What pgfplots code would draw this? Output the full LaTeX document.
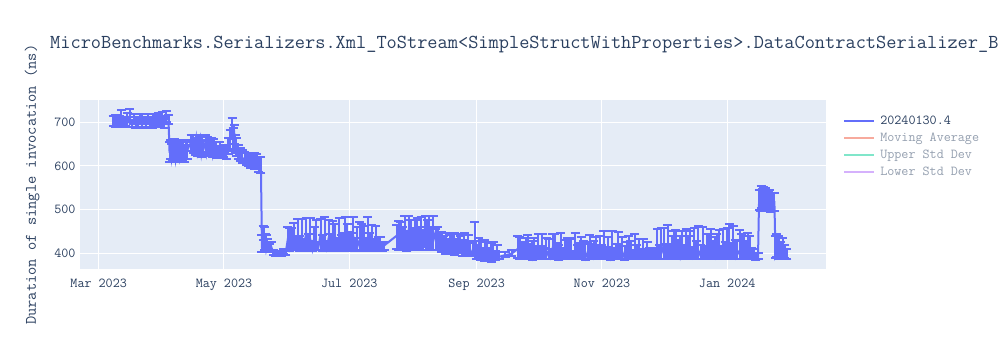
\documentclass[border=0pt]{standalone}
\usepackage{pgfplots}
\pgfplotsset{compat=1.18}
\usepackage{pgfplotstable}
\usepackage{fontspec}
\definecolor{pblue}{HTML}{636EFA}
\definecolor{plotbg}{HTML}{E5ECF6}
\definecolor{ptext}{HTML}{2A3F5F}
\definecolor{lgray}{HTML}{949FAF}
\definecolor{lred}{HTML}{F7AA9D}
\definecolor{lgreen}{HTML}{80E6CA}
\definecolor{lpurple}{HTML}{D5B1FC}

\pgfplotstableread{
x y ep em
7 702 12 10
8 698 18 8
9 705 10 12
10 700 15 9
11 708 20 14
12 696 12 7
13 703 10 11
14 699 22 9
15 712 18 12
16 697 9 8
17 705 14 10
18 701 11 13
19 694 16 7
20 707 12 12
21 700 19 10
22 703 10 8
23 698 15 11
24 706 13 9
25 701 9 12
26 695 17 8
27 709 11 13
28 702 14 10
29 699 22 9
30 704 10 11
31 707 16 8
32 700 12 12
33 711 15 10
34 706 10 9
34.5 630 25 20
35 645 15 30
35.5 620 30 10
36 640 18 28
36.5 628 22 15
37 650 12 35
37.5 618 35 8
38 635 20 22
38.5 625 28 14
39 648 10 32
39.5 622 30 11
40 638 22 25
41 630 25 18
42 620 28 10
42.5 645 15 30
43 635 20 20
45 655 15 20
46 648 22 18
47 640 25 15
47.5 660 12 25
48 635 20 12
48.5 652 18 22
49 642 25 18
49.5 658 10 26
50 630 28 10
50.5 646 20 20
51 638 22 15
52 655 15 24
52.5 632 25 10
53 648 18 20
54 640 20 18
55 650 15 22
55.5 628 25 8
56 642 20 16
57 632 22 12
58 628 15 10
59 636 18 14
60 626 20 8
61 633 14 12
62 624 22 9
63 645 20 18
64 660 22 25
65 682 28 20
65.5 668 20 30
66 675 18 25
66.5 650 22 20
67 640 25 18
68 628 20 12
69 622 18 10
70 615 22 8
71 618 15 10
72 610 20 8
73 607 18 8
74 605 25 10
75 612 15 12
76 600 30 8
77 603 25 10
78 595 25 8
79 590 30 6
79.5 412 30 8
80 440 22 10
80.5 415 45 8
81 425 20 15
81.5 408 35 6
82 418 15 10
83 410 12 6
84 415 10 8
85 401 6 4
86 398 5 3
87 400 6 4
88 397 5 3
89 399 7 4
90 402 8 4
91 400 6 4
92 430 30 22
93 412 45 6
94 438 20 30
95 418 52 10
96 425 15 18
97 440 38 32
98 414 25 8
99 428 50 20
100 420 12 14
101 445 35 38
102 416 28 10
103 432 48 26
104 410 18 5
105 438 22 30
106 422 55 15
107 415 10 8
108 442 36 34
109 418 24 12
110 430 52 22
111 412 16 6
112 436 40 28
113 424 20 18
114 416 58 10
115 440 26 32
116 420 14 14
117 434 46 28
118 413 30 7
119 428 18 22
120 444 38 36
121 418 50 12
122 426 22 20
123 412 34 6
124 438 44 30
125 420 16 14
126 430 30 24
127 416 56 10
128 442 24 34
129 422 40 16
130 414 20 8
131 436 48 28
132 420 26 14
133 428 36 22
134 414 18 8
135 432 30 24
136 418 20 12
137 424 14 16
138 414 10 8
139 418 8 10
145 440 25 30
146 430 45 22
147 452 20 42
148 425 35 18
149 446 40 36
150 432 18 26
151 455 30 44
152 428 48 20
153 444 14 36
154 436 40 28
155 458 22 46
156 430 30 22
157 448 36 40
158 438 16 30
159 462 24 48
160 434 42 26
161 455 30 44
162 440 20 32
163 448 38 40
164 430 26 22
165 442 18 34
166 425 22 18
167 410 38 8
168 420 20 15
169 405 42 6
170 415 18 12
171 408 35 8
172 418 26 14
173 402 45 5
174 412 20 10
175 406 38 6
176 416 24 12
177 400 30 5
178 410 36 8
179 404 22 6
180 412 30 10
181 400 28 5
182 406 18 8
183 425 46 30
184 398 20 10
185 405 30 14
186 392 36 8
187 398 14 10
188 388 42 5
189 400 26 12
190 392 20 8
191 386 38 5
192 396 30 10
193 390 16 6
194 394 24 8
195 392 10 6
198 396 8 5
201 399 8 5
204 410 30 20
205 396 42 10
206 404 18 14
207 392 34 6
208 412 22 24
209 398 44 10
210 405 16 16
211 390 38 5
212 408 28 20
213 396 20 8
214 402 42 14
215 392 24 6
216 410 34 22
217 398 14 10
218 394 40 8
219 406 26 18
220 392 18 6
221 412 32 24
222 398 46 10
223 404 20 16
224 390 30 5
225 408 38 20
226 396 16 8
227 402 28 14
228 392 44 6
229 410 22 22
230 398 36 10
231 394 12 8
232 406 40 18
233 392 26 6
234 404 20 16
235 396 42 8
236 410 18 22
237 390 32 5
238 402 24 14
239 398 44 10
240 406 16 18
241 392 36 6
242 410 28 22
243 396 20 8
244 400 40 12
245 392 26 6
246 408 44 20
247 396 18 8
248 404 34 16
249 390 22 5
250 410 40 22
251 398 14 10
252 392 30 6
253 406 42 18
254 396 20 8
255 402 36 14
256 390 26 5
257 408 18 20
258 396 44 10
259 400 28 12
260 392 16 6
261 406 38 18
262 396 22 8
263 402 30 14
264 392 18 6
265 398 34 10
266 394 14 8
267 400 26 12
268 392 20 6
269 398 12 10
270 394 18 8
271 396 10 8
272 410 45 22
273 396 24 10
274 418 40 30
275 400 58 12
276 392 30 6
277 414 50 26
278 402 20 14
279 396 44 8
280 420 32 32
281 398 56 10
282 408 22 20
283 392 48 6
284 416 36 28
285 400 18 12
286 396 60 8
287 412 28 24
288 402 50 14
289 392 22 6
290 418 40 30
291 398 30 10
292 406 56 18
293 394 26 8
294 416 44 28
295 400 16 12
296 392 52 6
297 410 34 22
298 398 58 10
299 404 24 16
300 392 46 6
301 414 30 26
302 400 54 12
303 396 20 8
304 408 48 20
305 394 32 8
306 416 42 28
307 402 65 14
308 396 28 8
309 410 52 22
310 392 38 6
311 406 22 18
312 398 56 10
313 412 32 24
314 394 46 8
315 404 24 16
316 396 50 8
317 410 30 22
318 392 20 6
319 396 14 8
320 390 10 6
321 392 8 6
321.5 520 25 20
322 515 30 18
322.5 525 28 22
323 512 35 15
323.5 522 30 20
324 518 26 18
324.5 528 22 24
325 515 28 16
325.5 520 25 20
326 512 30 14
326.5 518 28 18
327 510 25 15
328 516 22 18
328.5 508 30 12
329 512 25 15
329.5 400 40 10
330 410 35 18
331 395 45 8
332 405 22 14
333 398 38 10
334 402 18 12
335 396 15 8
}\datatable

\begin{document}
\begin{tikzpicture}[x=1bp,y=1bp]
\useasboundingbox (0,0) rectangle (1000,350);
\begin{axis}[
  at={(80bp,80.7bp)}, anchor=south west,
  width=746bp, height=169.3bp, scale only axis,
  xmin=-9.1, xmax=354.1,
  ymin=363.4, ymax=751,
  axis background/.style={fill=plotbg},
  axis line style={draw=none},
  tick style={draw=none},
  grid=major,
  major grid style={white, line width=1bp},
  xtick={0,61,122,184,245,306},
  xticklabels={Mar 2023,May 2023,Jul 2023,Sep 2023,Nov 2023,Jan 2024},
  ytick={400,500,600,700},
  /pgf/number format/assume math mode=true,
  ticklabel style={font=\ttfamily\fontsize{13.7bp}{15bp}\selectfont, text=ptext},
  xticklabel style={yshift=-6bp},
  yticklabel style={xshift=-1bp},
  ylabel={Duration of single invocation (ns)},
  every axis y label/.style={at={(axis description cs:-0.0643,0.5)}, rotate=90, anchor=center,
    font=\ttfamily\fontsize{16bp}{18bp}\selectfont, text=ptext},
  legend style={at={(1.02,0.93)}, anchor=north west, draw=none, fill=none,
    font=\ttfamily\fontsize{13.7bp}{15bp}\selectfont, row sep=3bp, inner sep=2bp},
  legend cell align=left,
  legend image code/.code={\draw[#1, line width=2bp] (0bp,0bp) -- (30bp,0bp); \path (34bp,0bp);},
]
\addplot[pblue, line width=2bp, mark=none, forget plot,
  error bars/.cd, y dir=both, y explicit,
  error bar style={line width=2bp, pblue},
  error mark options={rotate=90, line width=2bp, pblue, mark size=4.5bp}]
  table[x=x, y=y, y error plus=ep, y error minus=em] {\datatable};
\addlegendimage{pblue}
\addlegendentry{\textcolor{ptext}{20240130.4}}
\addlegendimage{lred}
\addlegendentry{\textcolor{lgray}{Moving Average}}
\addlegendimage{lgreen}
\addlegendentry{\textcolor{lgray}{Upper Std Dev}}
\addlegendimage{lpurple}
\addlegendentry{\textcolor{lgray}{Lower Std Dev}}
\end{axis}
\node[anchor=west, text=ptext, font=\ttfamily\fontsize{19.8bp}{22bp}\selectfont, inner sep=0] at (50,305) {MicroBenchmarks.Serializers.Xml\_ToStream<SimpleStructWithProperties>.DataContractSerializer\_BinaryXml};
\end{tikzpicture}
\end{document}
